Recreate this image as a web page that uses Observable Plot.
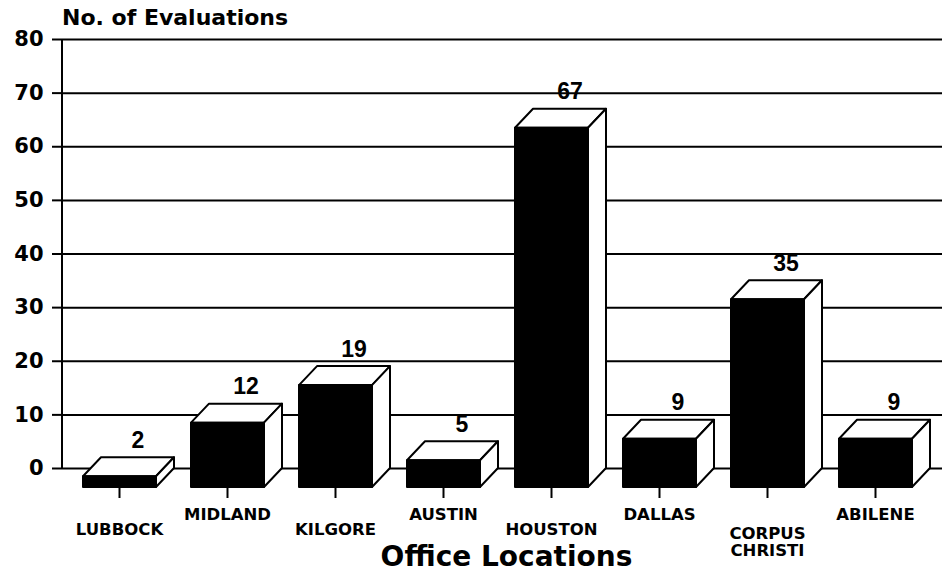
<!DOCTYPE html>
<html><head><meta charset="utf-8">
<script src="https://cdn.jsdelivr.net/npm/d3@7"></script>
<script src="https://cdn.jsdelivr.net/npm/@observablehq/plot@0.6"></script>
<style>body{margin:0;background:#fff}</style>
</head><body><div id="chart"></div>
<script>
const cities = ["LUBBOCK", "MIDLAND", "KILGORE", "AUSTIN", "HOUSTON", "DALLAS", "CORPUS\nCHRISTI", "ABILENE"];
const evaluations = [2, 12, 19, 5, 67, 9, 35, 9];
const yTicks = [0, 10, 20, 30, 40, 50, 60, 70, 80];
const yTitle = "No. of Evaluations";
const xTitle = "Office Locations";

const data = cities.map((c, i) => ({city: c, n: evaluations[i], i}));
const DX = 18, DY = 19;           // depth of the 3D boxes (pixels)
const BOLD = "DejaVu Sans";

function bw(x) { return typeof x.bandwidth === "function" ? x.bandwidth() : x.bandwidth; }

// 3D bars + vertical axis line
function bars3d(index, scales, values, dims) {
  const {x, y} = scales;
  const w = bw(x);
  const y0 = y(0);
  const g = d3.create("svg:g").attr("stroke", "black").attr("stroke-width", 2).attr("stroke-linejoin", "round");
  g.append("line").attr("x1", dims.marginLeft).attr("x2", dims.marginLeft)
    .attr("y1", y(yTicks[yTicks.length - 1])).attr("y2", y0);
  for (const d of data) {
    const xb = x(d.city), yt = y(d.n);
    // top face
    g.append("polygon").attr("fill", "white")
      .attr("points", [[xb - DX, yt + DY], [xb, yt], [xb + w, yt], [xb + w - DX, yt + DY]].join(" "));
    // side face
    g.append("polygon").attr("fill", "white")
      .attr("points", [[xb + w - DX, yt + DY], [xb + w, yt], [xb + w, y0], [xb + w - DX, y0 + DY]].join(" "));
    // front face
    g.append("rect").attr("fill", "black")
      .attr("x", xb - DX).attr("y", yt + DY).attr("width", w).attr("height", y0 - yt);
  }
  return g.node();
}

// ticks under bars, category labels, titles
function labels(index, scales, values, dims) {
  const {x, y} = scales;
  const w = bw(x);
  const y0 = y(0);
  const g = d3.create("svg:g").attr("font-family", BOLD).attr("font-weight", "bold").attr("fill", "black");
  for (const d of data) {
    const cx = x(d.city) + w / 2 - DX;
    g.append("line").attr("x1", cx).attr("x2", cx).attr("y1", y0 + DY).attr("y2", y0 + DY + 11)
      .attr("stroke", "black").attr("stroke-width", 2);
    const lines = d.city.split("\n");
    let base = d.i % 2 === 1 ? y0 + 52 : y0 + 67;
    if (lines.length > 1) base += 4;
    const t = g.append("text").attr("text-anchor", "middle").attr("font-size", 16.5);
    lines.forEach((l, k) => t.append("tspan").attr("x", cx).attr("y", base + k * 17).text(l));
  }
  g.append("text").attr("x", dims.marginLeft).attr("y", y(yTicks[yTicks.length - 1]) - 14)
    .attr("text-anchor", "start").attr("font-size", 22).text(yTitle);
  const r = x.range();
  g.append("text").attr("x", (r[0] + r[1]) / 2 - DX / 2).attr("y", y0 + 98)
    .attr("text-anchor", "middle").attr("font-size", 28).text(xTitle);
  return g.node();
}

const chart = Plot.plot({
  width: 942,
  height: 579,
  marginTop: 39,
  marginBottom: 111,
  marginLeft: 62,
  marginRight: 0,
  style: {fontFamily: BOLD, fontWeight: "bold", color: "black", background: "white"},
  x: {type: "band", domain: cities, range: [99, 932], paddingInner: 0.3276, paddingOuter: 0, axis: null},
  y: {domain: [0, 80], range: [468, 39]},
  marks: [
    Plot.gridY(yTicks, {stroke: "black", strokeOpacity: 1, strokeWidth: 2}),
    Plot.axisY(yTicks, {tickSize: 10, tickPadding: 9, fontSize: 21, fontWeight: "bold", fontFamily: BOLD,
      stroke: "black", strokeWidth: 2, label: null, tickFormat: d => String(d)}),
    bars3d,
    Plot.text(data, {x: "city", y: "n", text: d => String(d.n), dy: -10, lineAnchor: "bottom",
      fontSize: 23, fontWeight: "bold", fontFamily: "Liberation Sans", fill: "black"}),
    labels
  ]
});
document.getElementById("chart").appendChild(chart);
</script>
</body></html>
